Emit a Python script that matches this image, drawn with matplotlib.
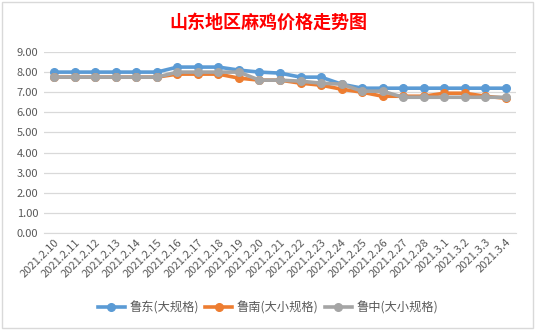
import matplotlib.pyplot as plt
from matplotlib.patches import Rectangle

plt.rcParams['font.family'] = ['Noto Sans CJK SC', 'DejaVu Sans']

# dates on the x axis
dates = ['2021.2.10', '2021.2.11', '2021.2.12', '2021.2.13', '2021.2.14',
         '2021.2.15', '2021.2.16', '2021.2.17', '2021.2.18', '2021.2.19',
         '2021.2.20', '2021.2.21', '2021.2.22', '2021.2.23', '2021.2.24',
         '2021.2.25', '2021.2.26', '2021.2.27', '2021.2.28', '2021.3.1',
         '2021.3.2', '2021.3.3', '2021.3.4']

# prices per region
ludong = [8.0, 8.0, 8.0, 8.0, 8.0, 8.0, 8.25, 8.25, 8.25, 8.1, 8.0, 7.95,
          7.75, 7.75, 7.4, 7.2, 7.2, 7.2, 7.2, 7.2, 7.2, 7.2, 7.2]
lunan = [7.75, 7.75, 7.75, 7.75, 7.75, 7.75, 7.9, 7.9, 7.9, 7.7, 7.6, 7.6,
         7.45, 7.35, 7.15, 7.0, 6.8, 6.8, 6.8, 6.95, 6.95, 6.8, 6.7]
luzhong = [7.75, 7.75, 7.75, 7.75, 7.75, 7.75, 8.0, 8.0, 8.0, 8.0, 7.6, 7.6,
           7.55, 7.45, 7.4, 7.05, 7.05, 6.75, 6.75, 6.75, 6.75, 6.75, 6.75]

names = ['鲁东(大规格)', '鲁南(大小规格)', '鲁中(大小规格)']
colors = ['#5B9BD5', '#ED7D31', '#A5A5A5']
yticks = [0, 1, 2, 3, 4, 5, 6, 7, 8, 9]

fig = plt.figure(figsize=(5.36, 3.30), dpi=100)
ax = fig.add_axes([44 / 536, 97 / 330, 472 / 536, 181 / 330])

x = list(range(len(dates)))
for vals, name, c in zip([ludong, lunan, luzhong], names, colors):
    ax.plot(x, vals, color=c, lw=2.6, marker='o', ms=5.5, label=name,
            solid_joinstyle='round')

ax.set_xlim(-0.5, len(dates) - 0.5)
ax.set_ylim(0, 9)
ax.set_yticks(yticks)
ax.set_yticklabels(['%.2f' % v for v in yticks])
ax.set_xticks(x)
ax.set_xticklabels(dates, rotation=45, ha='right', va='top',
                   rotation_mode='anchor')
ax.tick_params(axis='both', length=0, labelsize=8, colors='#595959', pad=4)
ax.tick_params(axis='x', pad=3)
ax.grid(axis='y', color='#D9D9D9', lw=0.9)
ax.set_axisbelow(True)
for s in ['top', 'right', 'left']:
    ax.spines[s].set_visible(False)
ax.spines['bottom'].set_color('#D9D9D9')

fig.text(0.5, 1 - 22 / 330, '山东地区麻鸡价格走势图', ha='center', va='center',
         fontsize=13, fontweight='semibold', color='#FF0000')

leg = fig.legend(loc='center', bbox_to_anchor=(0.5, 1 - 308 / 330), ncol=3,
                 frameon=False, fontsize=8.8, handlelength=2.2,
                 columnspacing=0.5, handletextpad=0.4)
for t in leg.get_texts():
    t.set_color('#595959')

fig.patches.append(Rectangle((2 / 536, 2 / 330), 531 / 536, 326 / 330,
                             transform=fig.transFigure, fill=False,
                             edgecolor='#D9D9D9', lw=1))

fig.savefig('out.png', dpi=100)
